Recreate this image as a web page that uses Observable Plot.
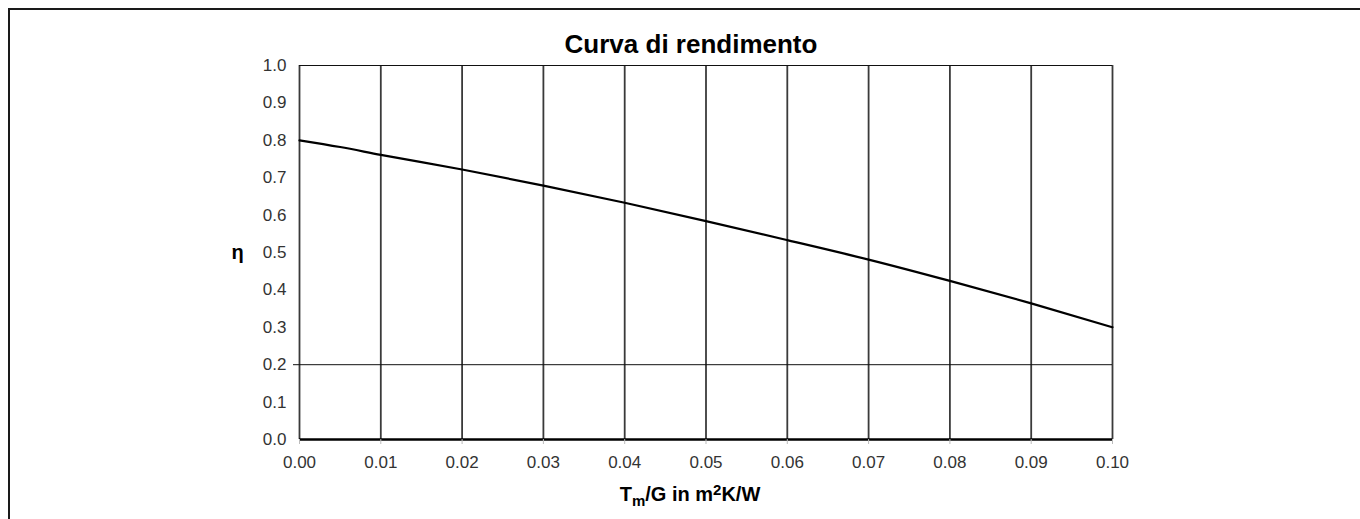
<!DOCTYPE html>
<html>
<head>
<meta charset="utf-8">
<script src="https://cdn.jsdelivr.net/npm/d3@7"></script>
<script src="https://cdn.jsdelivr.net/npm/@observablehq/plot@0.6"></script>
<style>
  html, body { margin: 0; padding: 0; background: #fff; }
  #wrap { position: relative; width: 1360px; height: 519px; overflow: hidden; }
  #frame { position: absolute; left: 8px; top: 8px; width: 1400px; height: 600px;
           border-top: 2px solid #1a1a1a; border-left: 2px solid #1a1a1a; pointer-events: none; }
</style>
</head>
<body>
<div id="wrap"><div id="frame"></div></div>
<script>
const titleText = "Curva di rendimento";
const yLabel = "η";
const xTicks = [0, 0.01, 0.02, 0.03, 0.04, 0.05, 0.06, 0.07, 0.08, 0.09, 0.10];
const yTicks = [0, 0.1, 0.2, 0.3, 0.4, 0.5, 0.6, 0.7, 0.8, 0.9, 1.0];
const gridY = [0.2];
const tmG = [0, 0.005, 0.01, 0.02, 0.03, 0.04, 0.05, 0.06, 0.07, 0.08, 0.09, 0.10];
const eta = [0.800, 0.782, 0.761, 0.722, 0.679, 0.633, 0.584, 0.533, 0.481, 0.424, 0.364, 0.300];

const data = tmG.map((x, i) => ({x, eta: eta[i]}));

const chart = Plot.plot({
  width: 1360,
  height: 519,
  marginLeft: 299,
  marginRight: 248,
  marginTop: 65,
  marginBottom: 80,
  x: {domain: [0, 0.1]},
  y: {domain: [0, 1]},
  style: {fontFamily: "'Liberation Sans', Arial, sans-serif", fontSize: "17px", color: "#222", background: "white"},
  marks: [
    Plot.ruleX(xTicks, {stroke: "#3a3a3a", strokeWidth: 1.8}),
    Plot.ruleY(gridY, {stroke: "#111", strokeWidth: 1}),
    Plot.ruleY([1], {stroke: "#111", strokeWidth: 1.2}),
    Plot.ruleY([0], {stroke: "#000", strokeWidth: 2.5}),
    Plot.axisX({ticks: xTicks, tickFormat: d3.format(".2f"), tickSize: 5, tickPadding: 11, fontSize: 17, stroke: "#bbb", fill: "#333", label: null}),
    Plot.axisY({ticks: yTicks, tickFormat: d3.format(".1f"), tickSize: 0, tickPadding: 13, fontSize: 17, fill: "#333", label: null}),
    Plot.axisY({ticks: gridY, tickFormat: () => "", tickSize: 6, stroke: "#111", label: null}),
    Plot.line(data, {x: "x", y: "eta", stroke: "#000", strokeWidth: 2.2, curve: "monotone-x"}),
    Plot.text([titleText], {frameAnchor: "top", dx: -15, dy: -31, fontSize: 26, fontWeight: "bold", fill: "#000"}),
    Plot.text([yLabel], {frameAnchor: "left", dx: -68, fontSize: 20, fontWeight: "bold", fill: "#000"})
  ]
});

// x axis label with subscript / superscript
const svg = d3.select(chart);
const t = svg.append("text")
  .attr("x", 690).attr("y", 501)
  .attr("text-anchor", "middle")
  .attr("font-weight", "bold")
  .attr("font-size", 20)
  .attr("fill", "#000");
t.append("tspan").text("T");
t.append("tspan").attr("dy", 5).attr("font-size", 15).text("m");
t.append("tspan").attr("dy", -5).text("/G in m");
t.append("tspan").attr("dy", -6).attr("font-size", 15).text("2");
t.append("tspan").attr("dy", 6).text("K/W");

document.getElementById("wrap").prepend(chart);
</script>
</body>
</html>
